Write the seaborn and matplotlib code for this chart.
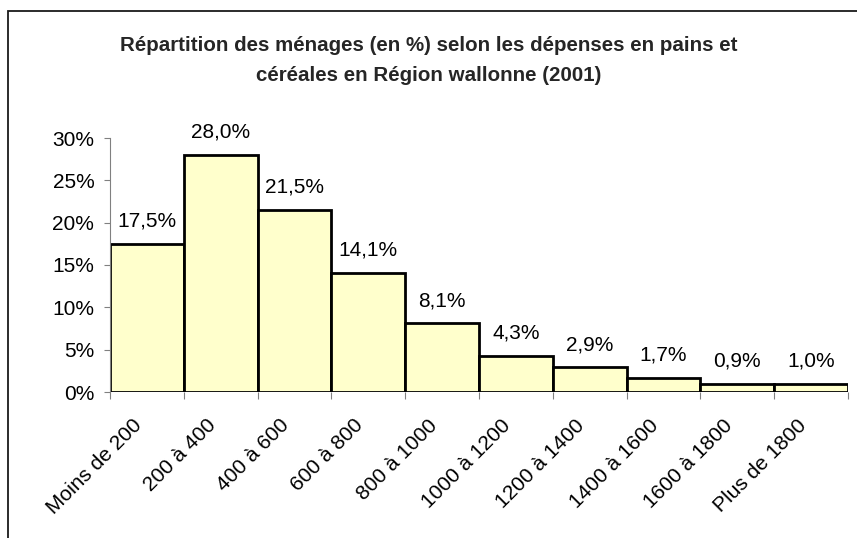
#!/usr/bin/env python3
"""
Répartition des ménages selon les dépenses en pains et céréales
(Région wallonne, 2001) - histogramme en barres jointives
"""

import numpy as np
import pandas as pd
import matplotlib
matplotlib.use("Agg")
import matplotlib.pyplot as plt
import matplotlib.transforms as mtransforms
from matplotlib.patches import Rectangle
import seaborn as sns

# Data
categories = ["Moins de 200", "200 à 400", "400 à 600", "600 à 800", "800 à 1000",
              "1000 à 1200", "1200 à 1400", "1400 à 1600", "1600 à 1800", "Plus de 1800"]
shares = [17.5, 28.0, 21.5, 14.1, 8.1, 4.3, 2.9, 1.7, 0.9, 1.0]
y_ticks = [0, 5, 10, 15, 20, 25, 30]
title_lines = ["Répartition des ménages (en %) selon les dépenses en pains et",
               "céréales en Région wallonne (2001)"]


def main():
    sns.set_style("white")
    plt.rcParams["font.family"] = ["Liberation Sans", "DejaVu Sans"]

    W, H = 857, 538
    fig = plt.figure(figsize=(W / 100, H / 100), dpi=100)
    fig.patch.set_facecolor("white")
    ax = fig.add_axes([110 / W, 1 - 392 / H, 738 / W, 254 / H])

    df = pd.DataFrame({"tranche": categories, "part": shares})
    sns.barplot(data=df, x="tranche", y="part", color="#FFFFCC", saturation=1,
                width=1.0, edgecolor="black", linewidth=2.0, ax=ax)

    # value labels above each bar, french decimal comma
    for i, v in enumerate(shares):
        ax.annotate(f"{v:.1f}".replace(".", ",") + "%", (i, v),
                    xytext=(0, 16.5), textcoords="offset points",
                    ha="center", va="center", fontsize=15, color="black")

    # y axis
    ax.set_ylim(0, 30)
    ax.set_yticks(y_ticks)
    ax.set_yticklabels([f"{t}%" for t in y_ticks])
    ax.tick_params(axis="y", left=True, length=4.3, width=0.8, color="#808080",
                   pad=7, labelsize=15, labelcolor="black")

    # x axis: ticks on bar edges, labels at bar centres
    n = len(categories)
    ax.set_xlim(-0.5, n - 0.5)
    ax.set_xticks(np.arange(n + 1) - 0.5)
    ax.set_xticklabels([""] * (n + 1))
    ax.set_xticks(np.arange(n), minor=True)
    ax.set_xticklabels(categories, minor=True, rotation=45, ha="right",
                       va="center", rotation_mode="anchor")
    ax.tick_params(axis="x", which="major", bottom=True, length=5, width=0.8,
                   color="#808080")
    ax.tick_params(axis="x", which="minor", bottom=True, length=0, pad=22,
                   labelsize=15, labelcolor="black")
    shift = mtransforms.ScaledTranslation(-0.08, 0, fig.dpi_scale_trans)
    for lab in ax.get_xticklabels(minor=True):
        lab.set_transform(lab.get_transform() + shift)
    ax.set_xlabel("")
    ax.set_ylabel("")

    for side in ["top", "right", "bottom"]:
        ax.spines[side].set_visible(False)
    ax.spines["left"].set_color("#808080")
    ax.spines["left"].set_linewidth(0.8)

    # two-line bold title, centred on the figure
    fig.text(0.5, 1 - 46 / H, title_lines[0], ha="center", va="center",
             fontsize=14.8, fontweight="bold")
    fig.text(0.5, 1 - 75 / H, title_lines[1], ha="center", va="center",
             fontsize=14.8, fontweight="bold")

    # chart area frame (cut on the right and bottom as in the source)
    fig.add_artist(Rectangle((8 / W, -0.1), 1.2, 1 - 10.5 / H + 0.1,
                             transform=fig.transFigure, fill=False,
                             edgecolor="#1a1a1a", linewidth=1.3))

    fig.savefig("out.png", dpi=100)
    plt.close(fig)


if __name__ == "__main__":
    main()
